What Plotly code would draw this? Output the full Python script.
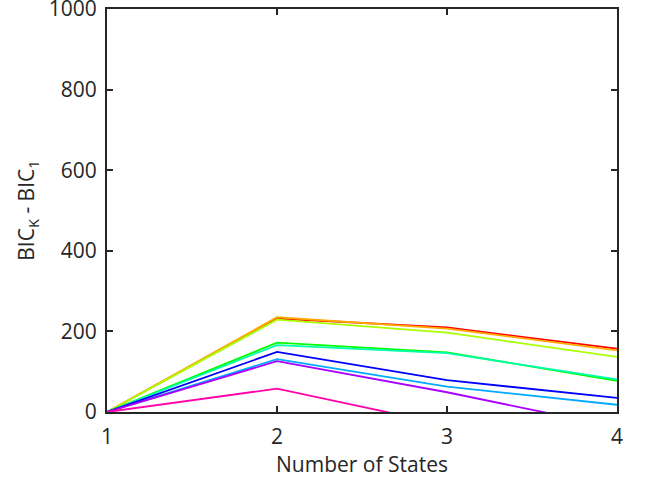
import plotly.graph_objects as go

states = [1, 2, 3, 4]
series_colors = ["rgb(255,0,0)", "rgb(255,170,0)", "rgb(170,255,0)", "rgb(0,255,0)",
                 "rgb(0,255,170)", "rgb(0,170,255)", "rgb(0,0,255)", "rgb(170,0,255)",
                 "rgb(255,0,170)"]
red = [0, 232, 210, 157]
orange = [0, 235, 207, 153]
yellowgreen = [0, 229, 197, 137]
green = [0, 172, 148, 77]
springgreen = [0, 166, 146, 81]
azure = [0, 131, 63, 18]
blue = [0, 149, 79, 35]
purple = [0, 126, 49, -38]
pink = [0, 58, -32, -100]
series = [red, orange, yellowgreen, green, springgreen, azure, blue, purple, pink]

y_ticks = [0, 200, 400, 600, 800, 1000]
x_ticks = [1, 2, 3, 4]

fig = go.Figure()
for vals, col in zip(series, series_colors):
    fig.add_trace(go.Scatter(x=states, y=vals, mode="lines",
                             line=dict(color=col, width=1.8), showlegend=False))

axis_common = dict(showline=True, linecolor="#262626", linewidth=2, mirror="ticks",
                   ticks="inside", ticklen=6, tickwidth=1.5, tickcolor="#262626",
                   showgrid=False, zeroline=False, ticklabeloverflow="allow",
                   automargin=False,
                   tickfont=dict(family="Open Sans", size=21, color="#262626"))

fig.update_layout(
    width=646, height=481,
    margin=dict(l=107, r=29, t=9, b=69),
    paper_bgcolor="white", plot_bgcolor="white",
    xaxis=dict(range=[1, 4], tickvals=x_ticks, ticklabelstandoff=5, **axis_common,
               title=dict(text="Number of States", standoff=8,
                          font=dict(family="Open Sans", size=21, color="#262626"))),
    yaxis=dict(range=[0, 1000], tickvals=y_ticks, ticklabelstandoff=4, **axis_common,
               title=dict(text="BIC<sub>K</sub> - BIC<sub>1</sub>", standoff=8,
                          font=dict(family="Open Sans", size=21, color="#262626"))),
)
fig.write_html("out.html")
